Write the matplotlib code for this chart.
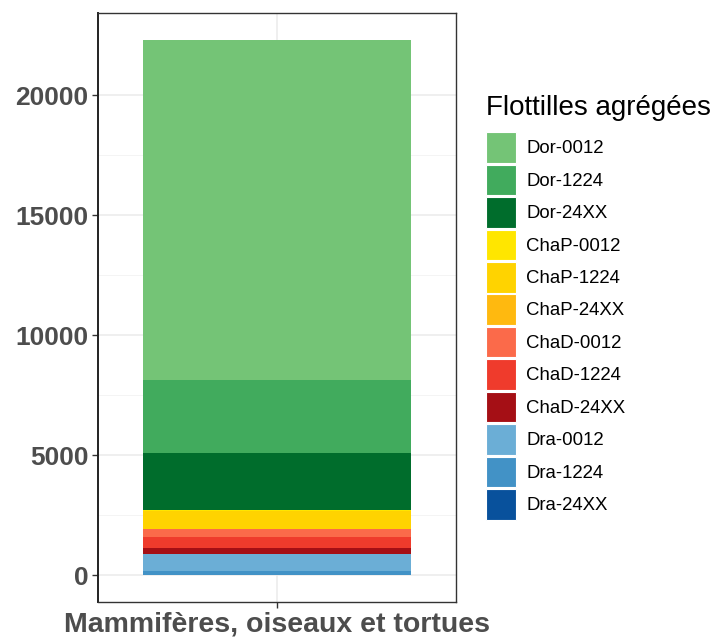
import numpy as np
import matplotlib
matplotlib.use("Agg")
import matplotlib.pyplot as plt
from matplotlib.patches import Patch

plt.rcParams["font.family"] = ["Liberation Sans", "DejaVu Sans"]

# one stacked bar, first level on top (ggplot stacking order)
category = "Mammifères, oiseaux et tortues"
flottilles = ["Dor-0012", "Dor-1224", "Dor-24XX",
              "ChaP-0012", "ChaP-1224", "ChaP-24XX",
              "ChaD-0012", "ChaD-1224", "ChaD-24XX",
              "Dra-0012", "Dra-1224", "Dra-24XX"]
valeurs = [14196, 3030, 2395,
           20, 740, 15,
           309, 459, 263,
           710, 165, 14]
couleurs = ["#74C476", "#41AB5D", "#006D2C",
            "#FFE600", "#FFD300", "#FFB90F",
            "#FB6A4A", "#EF3B2C", "#A50F15",
            "#6BAED6", "#4292C6", "#08519C"]
yticks = [0, 5000, 10000, 15000, 20000]

fig = plt.figure(figsize=(7.18, 6.37), dpi=100)
ax = fig.add_axes([0.1365, 0.055, 0.4985, 0.925])

# stack from the bottom: last level at the bottom
bottom = 0
for nom, v, c in reversed(list(zip(flottilles, valeurs, couleurs))):
    ax.bar(0, v, width=0.9, bottom=bottom, color=c, linewidth=0, zorder=3)
    bottom += v

total = sum(valeurs)
ax.set_xlim(-0.6, 0.6)
ax.set_ylim(-0.05 * total, 1.05 * total)
ax.set_xticks([0])
ax.set_xticklabels([category])
ax.set_yticks(yticks)
ax.set_yticks(np.arange(2500, 22500, 5000), minor=True)

ax.grid(True, which="major", color="#EBEBEB", linewidth=1.1, zorder=0)
ax.grid(True, which="minor", axis="y", color="#F3F3F3", linewidth=0.6, zorder=0)
for s in ax.spines.values():
    s.set_color("#333333")
    s.set_linewidth(1.0)
ax.spines["left"].set_color("#222222")
ax.spines["left"].set_linewidth(1.4)
ax.tick_params(axis="both", which="major", length=4, width=1.0, color="#333333",
               labelcolor="#4D4D4D", labelsize=19, pad=3)
ax.tick_params(axis="y", which="minor", length=0)
for lab in ax.get_xticklabels() + ax.get_yticklabels():
    lab.set_fontweight("bold")
ax.get_xticklabels()[0].set_fontsize(20.5)

handles = [Patch(facecolor=c, edgecolor="white", linewidth=0.8) for c in couleurs]
leg = fig.legend(handles, flottilles, title="Flottilles agrégées",
                 loc="upper left", bbox_to_anchor=(0.677, 0.8507),
                 frameon=False, fontsize=13.4, title_fontsize=20,
                 handlelength=1.62, handleheight=2.15, labelspacing=0.1,
                 handletextpad=0.55, borderaxespad=0, borderpad=0)
leg._legend_box.align = "left"
leg._legend_box.sep = 8

fig.savefig("out.png", dpi=100)
